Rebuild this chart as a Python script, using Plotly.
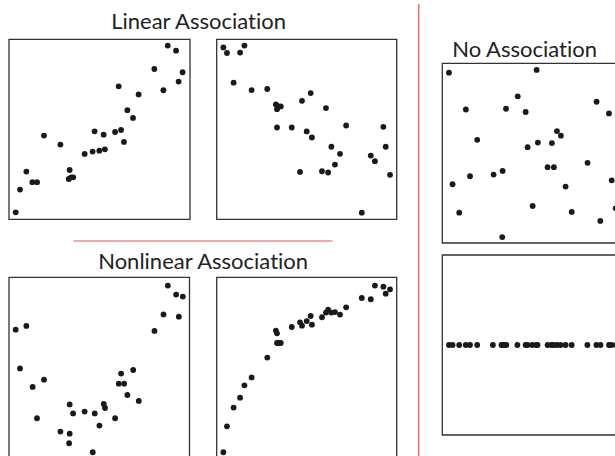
import plotly.graph_objects as go

W, H = 615, 456

# ---------------- data (0-100 scale within each panel) ----------------
lin_pos_x = [3.7, 6.1, 9.6, 12.9, 15.5, 19.3, 28.4, 33.5, 33.0, 34.3, 35.5, 41.8, 46.2, 47.3, 49.9,
             52.3, 53.0, 58.6, 60.6, 61.9, 63.5, 65.4, 68.5, 71.6, 80.3, 85.3, 87.7, 92.3, 93.7, 95.9]
lin_pos_y = [3.9, 16.5, 26.5, 20.6, 20.6, 46.5, 41.5, 27.4, 22.4, 23.3, 23.3, 36.3, 37.6, 48.9, 38.1,
             47.0, 38.9, 48.5, 73.9, 49.6, 43.0, 60.6, 56.3, 69.4, 83.5, 71.7, 96.5, 93.7, 76.5, 81.7]

lin_neg_x = [3.7, 5.7, 13.0, 15.4, 9.4, 19.4, 28.1, 32.9, 33.5, 34.4, 35.6, 33.5, 41.7, 47.4, 52.2, 50.0,
             52.9, 46.3, 60.7, 58.5, 61.9, 63.7, 68.5, 65.7, 71.9, 80.6, 85.6, 87.9, 92.6, 93.9, 96.3]
lin_neg_y = [95.5, 92.4, 92.6, 96.5, 75.9, 71.8, 72.4, 63.8, 61.2, 62.7, 62.7, 51.0, 51.0, 65.8, 70.1, 48.8,
             45.5, 26.3, 61.8, 26.7, 26.0, 40.3, 36.4, 30.4, 52.1, 3.7, 35.4, 32.3, 51.4, 40.3, 24.7]

quad_x = [3.7, 9.6, 6.1, 13.1, 19.4, 15.5, 28.5, 33.6, 35.5, 33.6, 33.3, 41.9, 47.5, 50.1, 52.5,
          53.2, 46.4, 58.8, 60.8, 62.1, 63.8, 65.6, 68.8, 71.9, 80.6, 85.6, 88.0, 92.6, 96.3, 94.1]
quad_y = [70.9, 73.0, 49.4, 39.1, 43.1, 21.7, 14.3, 29.4, 24.4, 13.1, 7.8, 25.4, 24.4, 17.6, 29.6,
          27.4, 2.8, 21.7, 40.9, 46.5, 40.9, 34.6, 48.5, 31.3, 70.2, 79.4, 95.4, 90.4, 89.3, 78.1]

curve_x = [3.7, 5.7, 9.4, 13.0, 15.4, 19.4, 28.1, 32.9, 33.5, 33.5, 34.4, 35.6, 41.7, 46.3, 47.4, 50.0,
           52.2, 52.9, 58.5, 60.7, 61.9, 63.7, 65.7, 68.5, 71.9, 80.6, 85.6, 87.9, 92.6, 93.9, 96.3]
curve_y = [2.8, 17.2, 27.6, 33.1, 40.0, 44.4, 55.4, 70.4, 68.9, 63.5, 63.5, 63.5, 72.4, 75.0, 73.1, 75.7,
           78.5, 73.7, 77.8, 80.4, 82.0, 80.4, 80.7, 79.3, 83.3, 88.5, 87.8, 95.4, 94.8, 90.9, 93.3]

none_x = [3.7, 13.1, 19.4, 5.7, 9.4, 15.4, 28.5, 33.5, 33.3, 35.4, 41.9, 46.3, 47.4, 52.4, 53.1,
          50.2, 58.5, 62.0, 60.9, 63.7, 65.9, 68.5, 71.9, 80.7, 85.7, 87.8, 92.6, 94.1, 96.3]
none_y = [94.8, 74.3, 57.4, 32.7, 16.9, 37.2, 38.1, 40.1, 3.3, 74.7, 81.6, 72.9, 53.3, 96.3, 55.9,
          20.6, 42.2, 42.2, 55.6, 62.3, 59.7, 31.4, 17.3, 44.6, 78.6, 12.3, 72.1, 34.9, 19.3]

flat_x = [3.7, 5.7, 9.4, 13.0, 15.4, 19.4, 28.1, 32.9, 33.5, 34.4, 35.6, 41.7, 46.3, 47.4, 50.0, 52.2,
          52.9, 58.5, 60.7, 61.9, 63.7, 65.7, 68.5, 71.9, 80.6, 85.6, 87.9, 92.6, 93.9, 96.3]
flat_y = [50.0] * len(flat_x)

titles = ["Linear Association", "Nonlinear Association", "No Association"]

# ---------------- layout helpers (pixel boxes) ----------------
def fx(px):
    return px / W

def fy(py):
    return 1 - py / H

# (left, top, right, bottom) in pixels of full panel box (180 px squares)
panels = [
    (lin_pos_x, lin_pos_y, (9, 39.3, 190, 219.3)),
    (lin_neg_x, lin_neg_y, (216.7, 39.3, 396.7, 219.3)),
    (quad_x, quad_y, (9, 277.3, 189.5, 457.3)),
    (curve_x, curve_y, (216.7, 277.3, 396.7, 457.3)),
    (none_x, none_y, (442.3, 63.3, 622.3, 243.0)),
    (flat_x, flat_y, (442.3, 255.0, 622.3, 435.0)),
]

fig = go.Figure()
shapes = []
for i, (xs, ys, (l, t, r, b)) in enumerate(panels):
    n = "" if i == 0 else str(i + 1)
    vl, vt, vr, vb = l, t, min(r, W), min(b, H)
    xr = [100 * (vl - l) / (r - l), 100 * (vr - l) / (r - l)]
    yr = [100 * (b - vb) / (b - t), 100 * (b - vt) / (b - t)]
    fig.add_trace(go.Scatter(
        x=xs, y=ys, mode="markers", xaxis="x" + n, yaxis="y" + n,
        marker=dict(size=5.8, color="#1a1a1a"), showlegend=False, hoverinfo="skip"))
    fig.layout["xaxis" + n] = dict(domain=[fx(vl), fx(vr)], range=xr, visible=False,
                                   fixedrange=True, anchor="y" + n)
    fig.layout["yaxis" + n] = dict(domain=[fy(vb), fy(vt)], range=yr, visible=False,
                                   fixedrange=True, anchor="x" + n)
    shapes.append(dict(type="rect", xref="paper", yref="paper",
                       x0=fx(l), x1=fx(r), y0=fy(b), y1=fy(t),
                       line=dict(color="#333333", width=1.3), fillcolor="rgba(0,0,0,0)"))

# red divider lines
shapes.append(dict(type="line", xref="paper", yref="paper", x0=fx(418.7), x1=fx(418.7),
                   y0=fy(4), y1=fy(H + 2), line=dict(color="#e8737c", width=1.6)))
shapes.append(dict(type="line", xref="paper", yref="paper", x0=fx(73.3), x1=fx(332.7),
                   y0=fy(241), y1=fy(241), line=dict(color="#e5555e", width=1.2)))

font = dict(family="Lato, 'Open Sans', sans-serif", size=22, color="#222222")
annotations = [
    dict(text=titles[0], x=fx(198), y=fy(21), xanchor="center", yanchor="middle"),
    dict(text=titles[1], x=fx(203), y=fy(260), xanchor="center", yanchor="middle"),
    dict(text=titles[2], x=fx(450), y=fy(48.5), xanchor="left", yanchor="middle"),
]
for a in annotations:
    a.update(xref="paper", yref="paper", showarrow=False, font=font)

fig.update_layout(
    width=W, height=H, margin=dict(l=0, r=0, t=0, b=0),
    paper_bgcolor="white", plot_bgcolor="rgba(0,0,0,0)",
    shapes=shapes, annotations=annotations,
)

post = ("document.body.style.margin='0';document.body.style.padding='0';"
        "document.body.style.overflow='hidden';"
        "document.querySelectorAll('text').forEach(function(t){"
        "t.style.fontVariantLigatures='none';t.style.fontFeatureSettings='\"liga\" 0';});")

fig.write_html("out.html", config={"displayModeBar": False}, post_script=post)
